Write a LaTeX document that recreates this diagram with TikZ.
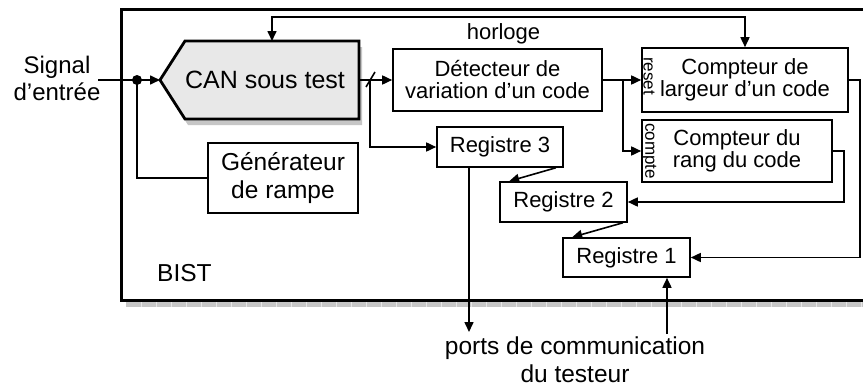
\documentclass[tikz,border=0pt]{standalone}
\usepackage{fontspec}
\setmainfont{Liberation Sans}
\usetikzlibrary{arrows.meta,calc}
\begin{document}
\begin{tikzpicture}[x=1pt,y=-1pt,
  wire/.style={line width=1.6pt},
  tip/.tip={Triangle[length=10pt,width=9pt]},
  arr/.style={wire,-tip},
  box/.style={draw,line width=1.6pt,fill=white,inner sep=0pt,align=center,font=\fontsize{22}{22}\selectfont},
  bigtxt/.style={font=\fontsize{24.5}{28}\selectfont,inner sep=0pt,align=center},
  vlabel/.style={rotate=-90,inner sep=0pt,font=\fontsize{17}{17}\selectfont},
  shadowc/.style={fill=gray!45}
  ]
\useasboundingbox (0,0) rectangle (863,391);
\clip (0,0) rectangle (863,391);
% BIST frame with shadow
\fill[shadowc] (126,300) rectangle (880,307);
\foreach \x in {141,156,...,870} \draw[gray!20,line width=0.5pt] (\x,301.5) -- (\x,307);
\draw[line width=3pt,fill=white] (121,9) rectangle (880,300);
\node[bigtxt,anchor=base west] (bist) at (157,281) {BIST};
% CAN
\fill[shadowc,shift={(3,6)}] (160,80) -- (185,41) -- (359,41) -- (359,119) -- (185,119) -- cycle;
\draw[line width=2.8pt,fill=gray!18,line join=miter] (160,80) -- (185,41) -- (359,41) -- (359,119) -- (185,119) -- cycle;
\node[font=\fontsize{25}{25}\selectfont,inner sep=0pt] (can) at (265,80) {CAN sous test};
\coordinate (canW) at (160,80);
\coordinate (canN) at (272,41);
\coordinate (canE) at (359,80);
% input
\node[font=\fontsize{24}{27}\selectfont,align=center,inner sep=0pt] (sig) at (57,78) {Signal\\d’entrée};
\coordinate (in) at (98,80);
\coordinate (dot) at (137,80);
\draw[wire] (in) -- (dot);
\draw[arr] (dot) -- (canW);
\fill (dot) circle (5);
% boxes
\node[box,font=\fontsize{24.5}{28}\selectfont,minimum width=150pt,minimum height=70pt] (gen) at (283,178) {Générateur\\de rampe};
\node[box,minimum width=209pt,minimum height=62pt] (det) at (497.5,80) {Détecteur de\\variation d’un code};
\node[box,minimum width=206pt,minimum height=64pt] (cl) at (745,80) {Compteur de\\largeur d’un code};
\node[box,minimum width=190pt,minimum height=62pt] (cr) at (737,151) {Compteur du\\rang du code};
\node[box,minimum width=126pt,minimum height=40pt] (r3) at (500,147) {Registre 3};
\node[box,minimum width=127pt,minimum height=40pt] (r2) at (563.5,202) {Registre 2};
\node[box,minimum width=127pt,minimum height=39pt] (r1) at (626.5,257.5) {Registre 1};
\node[vlabel] (rst) at (649,76) {reset};
\node[vlabel] (cpt) at (649,151) {compte};
% ramp
\draw[wire] (dot) |- (gen.west);
% clock
\coordinate (clk) at (272,17);
\draw[wire,tip-tip] (canN) -- (clk) -| (cl.north);
\node[font=\fontsize{22}{22}\selectfont,inner sep=0pt,anchor=base] (hor) at (503.5,39) {horloge};
% bus
\coordinate (bus) at (370,80);
\draw[arr] (canE) -- (canE -| det.west);
\draw[wire] ($(bus)+(-4,7)$) -- ($(bus)+(5,-8)$);
\draw[arr] (bus) |- (r3.west);
% counters
\coordinate (br) at (623,80);
\draw[arr] (det.east) -- (det.east -| cl.west);
\draw[arr] (br) |- (cr.west);
\draw[arr] (cl.east) -- ++(11,0) |- (r1.east);
\draw[arr] (cr.east) -- ++(11,0) |- (r2.east);
% registers chain
\draw[arr] ($(r3.south east)+(-8,0)$) -- ($(r2.north west)+(10,0)$);
\draw[arr] ($(r2.south east)+(-5,0)$) -- ($(r1.north west)+(10,0)$);
% tester ports
\coordinate (p1) at (469,332);
\draw[arr] (r3.south -| p1) -- (p1);
\coordinate (p2) at (667,334);
\draw[arr] (p2) -- (p2 |- r1.south);
\node[bigtxt,anchor=north] (ports) at (575,337) {ports de communication\\du testeur};
\end{tikzpicture}
\end{document}
